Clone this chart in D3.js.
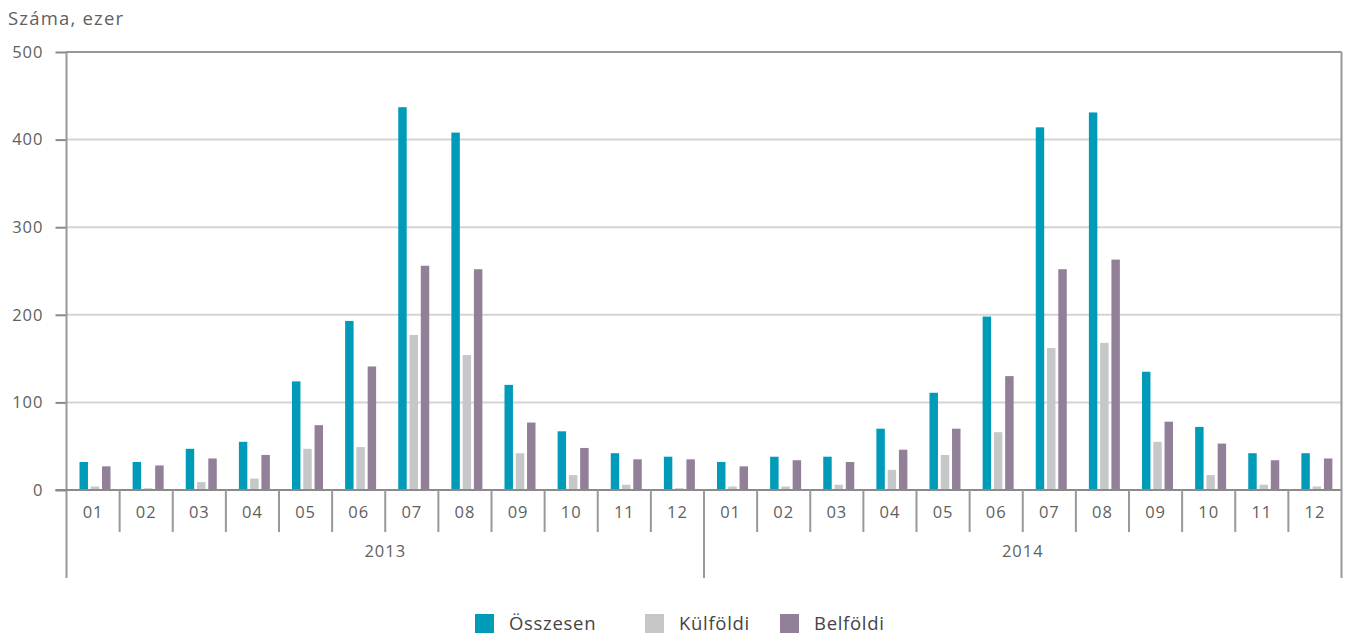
<!DOCTYPE html>
<html>
<head>
<meta charset="utf-8">
<script src="https://cdn.jsdelivr.net/npm/d3@7/dist/d3.min.js"></script>
<style>
  html, body { margin: 0; padding: 0; background: #fff; }
  svg { display: block; font-family: "Open Sans", "Noto Sans", sans-serif; }
</style>
</head>
<body>
<svg id="chart" width="1346" height="637"></svg>
<script>
// Monthly figures (thousands), 2013–2014
const years = ["2013", "2014"];
const months = ["01", "02", "03", "04", "05", "06", "07", "08", "09", "10", "11", "12"];
const seriesNames = ["Összesen", "Külföldi", "Belföldi"];
const seriesColors = ["#009bb9", "#c6c7c9", "#927f98"];

const osszesen = [32, 32, 47, 55, 124, 193, 437, 408, 120, 67, 42, 38,
                  32, 38, 38, 70, 111, 198, 414, 431, 135, 72, 42, 42];
const kulfoldi = [4, 2, 9, 13, 47, 49, 177, 154, 42, 17, 6, 2,
                  4, 4, 6, 23, 40, 66, 162, 168, 55, 17, 6, 4];
const belfoldi = [27, 28, 36, 40, 74, 141, 256, 252, 77, 48, 35, 35,
                  27, 34, 32, 46, 70, 130, 252, 263, 78, 53, 34, 36];

const yTicks = [0, 100, 200, 300, 400, 500];

const rows = [];
years.forEach((yr, yi) => months.forEach((m, mi) => {
  const i = yi * 12 + mi;
  rows.push({ key: yr + "-" + m, year: yr, month: m,
              values: [osszesen[i], kulfoldi[i], belfoldi[i]] });
}));

const svg = d3.select("#chart");
const plotLeft = 66.5, plotRight = 1341.5, plotTop = 52, plotBottom = 490;

const x = d3.scaleBand().domain(rows.map(d => d.key)).range([plotLeft, plotRight]).padding(0);
const xInner = d3.scaleBand().domain(d3.range(3)).range([13, 44]).paddingInner(0.25).paddingOuter(0);
const y = d3.scaleLinear().domain([0, 500]).range([plotBottom, plotTop]);

const axisColor = "#999";
const textColor = "#5f5f5f";
const labelSize = 16.5, labelSpacing = 1;

// horizontal gridlines
svg.append("g").selectAll("line").data(yTicks.filter(t => t > 0 && t < 500)).join("line")
  .attr("x1", plotLeft).attr("x2", plotRight)
  .attr("y1", d => y(d)).attr("y2", d => y(d))
  .attr("stroke", "#d4d4d4").attr("stroke-width", 2);

// bars
const groups = svg.append("g").selectAll("g").data(rows).join("g")
  .attr("transform", d => `translate(${x(d.key)},0)`);
groups.selectAll("rect").data(d => d.values.map((v, s) => ({ v, s }))).join("rect")
  .attr("x", d => xInner(d.s))
  .attr("width", xInner.bandwidth())
  .attr("y", d => y(d.v))
  .attr("height", d => y(0) - y(d.v))
  .attr("fill", d => seriesColors[d.s]);

// plot frame: top and right border
svg.append("line").attr("x1", plotLeft).attr("x2", plotRight).attr("y1", plotTop).attr("y2", plotTop)
  .attr("stroke", axisColor).attr("stroke-width", 2);
svg.append("line").attr("x1", plotRight).attr("x2", plotRight).attr("y1", plotTop).attr("y2", plotBottom)
  .attr("stroke", axisColor).attr("stroke-width", 2);

// y axis
const yAxis = d3.axisLeft(y).tickValues(yTicks).tickSize(11).tickPadding(12);
const gy = svg.append("g").attr("transform", `translate(${plotLeft},0)`).call(yAxis);
gy.select(".domain").remove();
gy.selectAll(".tick line").attr("stroke", "#8a8a8a").attr("stroke-width", 2);
gy.selectAll(".tick text").attr("fill", textColor).attr("font-size", labelSize)
  .attr("letter-spacing", labelSpacing)
  .attr("font-family", "'Open Sans', 'Noto Sans', sans-serif");
svg.append("line").attr("x1", plotLeft).attr("x2", plotLeft).attr("y1", plotTop - 1).attr("y2", 578)
  .attr("stroke", axisColor).attr("stroke-width", 2);

// x baseline
svg.append("line").attr("x1", plotLeft - 11).attr("x2", plotRight).attr("y1", plotBottom).attr("y2", plotBottom)
  .attr("stroke", "#8a8a8a").attr("stroke-width", 2);

// month separators and labels
const monthBounds = rows.slice(1).map(d => x(d.key)).filter((v, i) => (i + 1) % 12 !== 0);
svg.append("g").selectAll("line").data(monthBounds).join("line")
  .attr("x1", d => d).attr("x2", d => d).attr("y1", plotBottom).attr("y2", 532)
  .attr("stroke", axisColor).attr("stroke-width", 2);
svg.append("g").selectAll("text").data(rows).join("text")
  .attr("x", d => x(d.key) + x.bandwidth() / 2).attr("y", 518)
  .attr("text-anchor", "middle").attr("font-size", labelSize).attr("letter-spacing", labelSpacing)
  .attr("fill", textColor)
  .text(d => d.month);

// year separators and labels
const yearBounds = [x(rows[12].key), plotRight];
svg.append("g").selectAll("line").data(yearBounds).join("line")
  .attr("x1", d => d).attr("x2", d => d).attr("y1", plotBottom).attr("y2", 578)
  .attr("stroke", axisColor).attr("stroke-width", 2);
svg.append("g").selectAll("text").data(years).join("text")
  .attr("x", (d, i) => {
    const first = x(rows[i * 12].key), last = x(rows[i * 12 + 11].key) + x.bandwidth();
    return (first + last) / 2;
  })
  .attr("y", 557).attr("text-anchor", "middle").attr("font-size", labelSize)
  .attr("letter-spacing", labelSpacing).attr("fill", textColor)
  .text(d => d);

// axis title
svg.append("text").attr("x", 8).attr("y", 25).attr("font-size", 18.5).attr("letter-spacing", 1.2)
  .attr("fill", textColor)
  .text("Száma, ezer");

// legend
const legendX = [475, 645, 780];
const lg = svg.append("g").selectAll("g").data(seriesNames).join("g")
  .attr("transform", (d, i) => `translate(${legendX[i]},614)`);
lg.append("rect").attr("width", 19).attr("height", 19).attr("fill", (d, i) => seriesColors[i]);
lg.append("text").attr("x", 34).attr("y", 16).attr("font-size", 18.5).attr("letter-spacing", 0.7)
  .attr("fill", "#444")
  .text(d => d);
</script>
</body>
</html>
